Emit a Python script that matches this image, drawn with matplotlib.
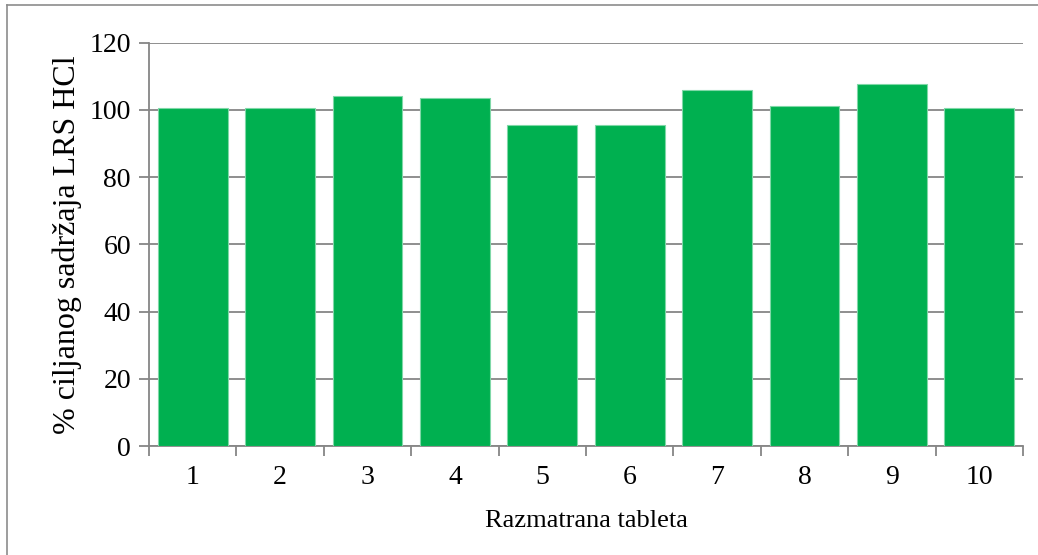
import numpy as np
import matplotlib.pyplot as plt
from matplotlib.lines import Line2D

# data
tablets = ["1", "2", "3", "4", "5", "6", "7", "8", "9", "10"]
content = [100.5, 100.5, 104.0, 103.4, 95.6, 95.4, 105.9, 101.3, 107.6, 100.5]
y_ticks = [0, 20, 40, 60, 80, 100, 120]

plt.rcParams["font.family"] = ["Liberation Serif", "DejaVu Serif"]

fig = plt.figure(figsize=(10.38, 5.55), dpi=100)
W, H = 1038, 555
ax = fig.add_axes([149 / W, 1 - 446 / H, (1023 - 149) / W, (446 - 42.7) / H])

x = np.arange(1, len(tablets) + 1)
ax.bar(x, content, width=0.8, color="#00B050", edgecolor="#7fd8a7", linewidth=0.8, zorder=3)

ax.set_xlim(0.5, len(tablets) + 0.5)
ax.set_ylim(0, 120)
ax.set_yticks(y_ticks)
ax.set_yticklabels([str(v) for v in y_ticks], fontsize=20)

# tick marks between categories, labels centred
ax.set_xticks(np.arange(0.5, len(tablets) + 1, 1.0))
ax.set_xticklabels([])
ax.set_xticks(x, minor=True)
ax.set_xticklabels(tablets, minor=True, fontsize=20)
ax.tick_params(axis="x", which="major", length=7, width=1.3, color="#868686", direction="out")
ax.tick_params(axis="x", which="minor", length=0, pad=14)
ax.tick_params(axis="y", length=7, width=1.3, color="#868686", pad=6)

ax.grid(axis="y", color="#868686", linewidth=1.3, zorder=0)
for s in ["top", "right"]:
    ax.spines[s].set_visible(False)
for s in ["left", "bottom"]:
    ax.spines[s].set_color("#868686")
    ax.spines[s].set_linewidth(1.3)

ax.set_xlabel("Razmatrana tableta", fontsize=19, labelpad=14)
ax.set_ylabel("% ciljanog sadržaja LRS HCl", fontsize=23, labelpad=5)

# outer chart border (only top/left visible in the reference)
fig.add_artist(Line2D([7 / W, 7 / W], [0, 1 - 4.5 / H], color="#8c8c8c", linewidth=1.2, transform=fig.transFigure))
fig.add_artist(Line2D([7 / W, 1], [1 - 4.5 / H, 1 - 4.5 / H], color="#8c8c8c", linewidth=1.2, transform=fig.transFigure))

fig.savefig("out.png", dpi=100)
